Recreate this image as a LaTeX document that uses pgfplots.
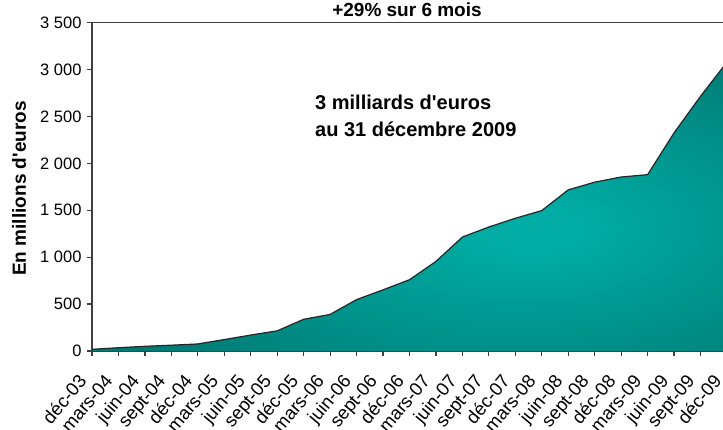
\documentclass[border=0pt]{standalone}
\usepackage{fontspec}
\setmainfont{Liberation Sans}
\usepackage{pgfplots}
\pgfplotsset{compat=1.18}
\usepackage{pgfplotstable}
\definecolor{tealdark}{RGB}{0,120,114}
\definecolor{teallight}{RGB}{0,172,164}
\definecolor{axisgray}{RGB}{64,64,64}
\pgfdeclareradialshading{tealglow}{\pgfpoint{10bp}{-4bp}}{color(0bp)=(teallight); color(4bp)=(teallight); color(36bp)=(tealdark); color(100bp)=(tealdark)}

\pgfplotstableread{
x y
0 18
1 35
2 50
3 62
4 75
5 122
6 170
7 215
8 338
9 390
10 548
11 652
12 760
13 955
14 1215
15 1322
16 1415
17 1497
18 1718
19 1800
20 1855
21 1880
22 2326
23 2716
24 3080
}\datatable

\begin{document}
\begin{tikzpicture}
\begin{axis}[
  at={(0pt,0pt)}, anchor=south west,
  scale only axis, width=635pt, height=328.3pt,
  xmin=0, xmax=24, ymin=0, ymax=3500,
  axis line style={draw=axisgray, line width=1.2pt},
  tick style={draw=axisgray, line width=1.2pt},
  tick align=outside, tick pos=left, major tick length=5pt,
  ytick={0,500,...,3500},
  /pgf/number format/1000 sep={\ },
  /pgf/number format/assume math mode=true,
  yticklabel style={font=\fontsize{16.5}{18}\selectfont, xshift=-2pt},
  xtick={0,...,24},
  xticklabels={déc-03,mars-04,juin-04,sept-04,déc-04,mars-05,juin-05,sept-05,déc-05,mars-06,juin-06,sept-06,déc-06,mars-07,juin-07,sept-07,déc-07,mars-08,juin-08,sept-08,déc-08,mars-09,juin-09,sept-09,déc-09},
  xticklabel style={xshift=-15pt, yshift=-17pt, rotate=50, anchor=north east, font=\fontsize{18.5}{20}\selectfont, inner sep=0pt},
  ylabel={En millions d\textquotesingle euros},
  every axis y label/.style={at={(rel axis cs:-0.115,0.495)}, rotate=90, anchor=center, font=\bfseries\fontsize{19}{21}\selectfont},
]
\addplot[draw=none, shade, shading=tealglow] table[x=x,y=y] {\datatable} \closedcycle;
\addplot[draw=black!85, line width=1.2pt, line join=round, mark=none] table[x=x,y=y] {\datatable};
\end{axis}
\node[anchor=base, font=\bfseries\fontsize{19}{22}\selectfont] at (315pt,334pt) {+29\% sur 6 mois};
\node[anchor=base west, font=\bfseries\fontsize{20}{24}\selectfont, inner sep=0pt] at (223pt,241pt) {3 milliards d\textquotesingle euros};
\node[anchor=base west, font=\bfseries\fontsize{20}{24}\selectfont, inner sep=0pt] at (223pt,214pt) {au 31 décembre 2009};
\pgfresetboundingbox
\useasboundingbox (-92pt,-79pt) rectangle (631pt,351pt);
\end{tikzpicture}
\end{document}
